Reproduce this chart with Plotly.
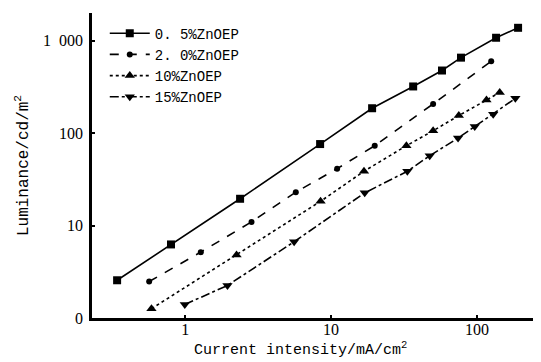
import plotly.graph_objects as go

names = ["0. 5%ZnOEP", "2. 0%ZnOEP", "10%ZnOEP", "15%ZnOEP"]

x_05 = [0.342, 0.80, 2.38, 8.41, 19.1, 36.5, 57.5, 77.6, 135, 191]
y_05 = [2.56, 6.25, 19.5, 76.2, 186, 320, 476, 656, 1077, 1380]

x_20 = [0.567, 1.28, 2.85, 5.73, 11.0, 19.9, 50.0, 125]
y_20 = [2.48, 5.16, 10.96, 23.0, 41.3, 73.1, 207, 599]

x_10 = [0.588, 2.25, 8.47, 16.8, 32.8, 50.0, 75.0, 116, 143]
y_10 = [1.26, 4.80, 18.3, 38.7, 73.1, 106, 155, 228, 276]

x_15 = [0.995, 1.95, 5.58, 17.0, 33.3, 47.4, 74.1, 96.4, 129, 183]
y_15 = [1.40, 2.25, 6.68, 22.6, 38.7, 57.0, 88.4, 118, 160, 238]

y_tickvals = [1, 10, 100, 1000]
y_ticktext = ["0", "10", "100", "1\u2002000"]
x_tickvals = [1, 10, 100]
x_ticktext = ["1", "10", "100"]

series = [
    (x_05, y_05, "solid", "square", 8),
    (x_20, y_20, "dash", "circle", 6),
    (x_10, y_10, "dot", "triangle-up", 9),
    (x_15, y_15, "dashdot", "triangle-down", 9),
]

MONO = "Liberation Mono"
SERIF = "Liberation Serif"
fig = go.Figure()
for name, (xs, ys, dash, sym, sz) in zip(names, series):
    fig.add_trace(go.Scatter(
        x=xs, y=ys, name=name, mode="lines+markers",
        line=dict(color="black", width=1.6, dash=dash),
        marker=dict(symbol=sym, size=sz, color="black"),
    ))

fig.update_layout(
    width=541, height=362,
    margin=dict(l=84, r=1, t=5, b=52),
    paper_bgcolor="white", plot_bgcolor="white",
    font=dict(family=SERIF, size=14, color="black"),
    showlegend=True,
    legend=dict(x=0.028, y=0.985, xanchor="left", yanchor="top",
                bgcolor="rgba(0,0,0,0)", font=dict(family=MONO, size=14, color="black"),
                tracegroupgap=0, itemwidth=40),
    annotations=[dict(
        text="Current intensity/mA/cm<sup>2</sup>", xref="paper", yref="paper",
        x=0.458, y=-0.102, xanchor="center", yanchor="middle", showarrow=False,
        font=dict(family=MONO, size=15, color="black"),
    )],
)
fig.update_xaxes(
    type="log", range=[-0.638, 2.486],
    tickvals=x_tickvals, ticktext=x_ticktext,
    ticks="inside", ticklen=3, tickwidth=1.5, tickcolor="black",
    showline=True, linecolor="black", linewidth=2.5,
    showgrid=False, zeroline=False, mirror=False,
    tickfont=dict(family=SERIF, size=16, color="black"),
    ticklabelstandoff=-5,
)
fig.update_yaxes(
    type="log", range=[0, 3.30],
    tickvals=y_tickvals, ticktext=y_ticktext,
    ticks="inside", ticklen=3, tickwidth=1.5, tickcolor="black",
    showline=True, linecolor="black", linewidth=2.5,
    showgrid=False, zeroline=False, mirror=False,
    tickfont=dict(family=SERIF, size=16, color="black"),
    ticklabelstandoff=3,
    title=dict(text="Luminance/cd/m<sup>2</sup>", standoff=11,
               font=dict(family=MONO, size=16, color="black")),
)

fig.write_html("out.html")
